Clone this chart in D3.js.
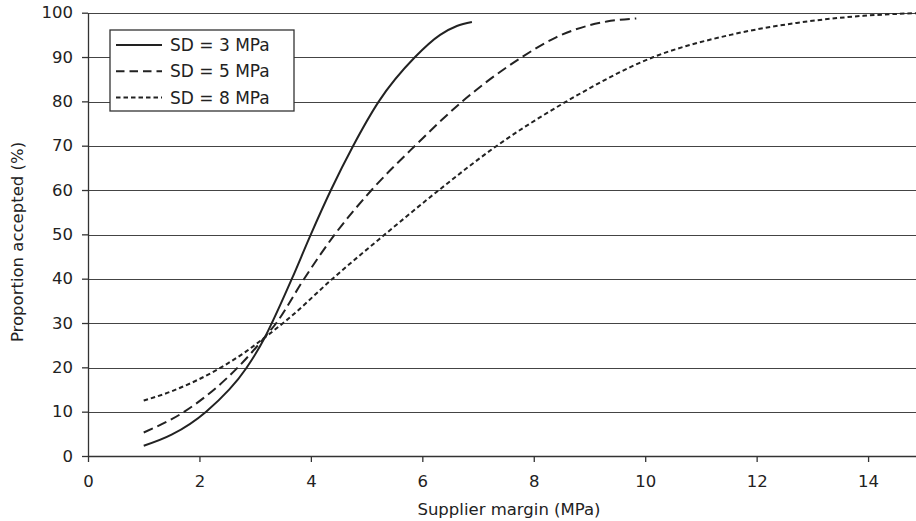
<!DOCTYPE html>
<html>
<head>
<meta charset="utf-8">
<script src="https://cdn.jsdelivr.net/npm/d3@7"></script>
<style>
  body { margin: 0; background: #fff; }
  svg { display: block; font-family: "DejaVu Sans", sans-serif; }
  .grid line { stroke: #444; stroke-width: 1; shape-rendering: crispEdges; }
  .axis path, .axis line { stroke: #333; stroke-width: 1.3; }
  .axis text { fill: #222; font-size: 16.5px; font-family: "DejaVu Sans", sans-serif; }
  .curve { fill: none; stroke: #222; stroke-width: 2; }
</style>
</head>
<body>
<svg width="916" height="521"></svg>
<script>
// values (x = supplier margin MPa, y = % accepted)
var sd3X = [1.0, 1.5, 2.12, 2.84, 3.18, 3.30, 3.66, 4.0, 4.36, 4.76, 5.22, 5.87, 6.32, 6.62, 6.89],
    sd3Y = [2.3, 4.8, 10, 19.8, 26.9, 30, 40, 50, 60, 70, 80, 90, 95, 97, 97.9];

var sd5X = [1.0, 1.73, 2.69, 3.18, 3.38, 3.88, 4.43, 5.09, 5.87, 6.72, 7.79, 8.41, 9.01, 9.31, 9.84],
    sd5Y = [5.3, 10, 20, 26.9, 30, 40, 50, 60, 70, 80, 90, 94.5, 97.2, 98.0, 98.7];

var sd8X = [1.0, 1.5, 2.39, 2.84, 3.18, 3.6, 4.39, 5.33, 6.30, 7.34, 8.59, 10.15, 11.53, 12.72, 13.92, 14.86],
    sd8Y = [12.5, 14.6, 20, 23.6, 26.8, 31, 40, 50, 60, 70, 80, 90, 95.0, 97.7, 99.3, 99.9];

var seriesNames = ["SD = 3 MPa", "SD = 5 MPa", "SD = 8 MPa"],
    dashes = [null, "10,5", "4.5,3"];

var xTicks = [0, 2, 4, 6, 8, 10, 12, 14],
    yTicks = [0, 10, 20, 30, 40, 50, 60, 70, 80, 90, 100];

var svg = d3.select("svg"),
    margin = {top: 12.7, right: 0, bottom: 65, left: 88},
    width = 916 - margin.left - margin.right,
    height = 456 - margin.top;

var x = d3.scaleLinear().domain([0, 14.86]).range([0, width]),
    y = d3.scaleLinear().domain([0, 100]).range([height, 0]);

var g = svg.append("g")
    .attr("transform", "translate(" + margin.left + "," + margin.top + ")");

// horizontal gridlines
g.append("g")
    .attr("class", "grid")
  .selectAll("line")
  .data(yTicks.slice(1))
  .enter().append("line")
    .attr("x1", 0)
    .attr("x2", width)
    .attr("y1", function(d) { return Math.round(y(d)) + 0.5; })
    .attr("y2", function(d) { return Math.round(y(d)) + 0.5; });

g.append("g")
    .attr("class", "axis axis--x")
    .attr("transform", "translate(0," + height + ")")
    .call(d3.axisBottom(x).tickValues(xTicks).tickSize(6).tickSizeOuter(0).tickPadding(13));

g.append("g")
    .attr("class", "axis axis--y")
    .call(d3.axisLeft(y).tickValues(yTicks).tickSize(6).tickSizeOuter(0).tickPadding(9));

var line = d3.line()
    .curve(d3.curveMonotoneX)
    .x(function(d) { return x(d[0]); })
    .y(function(d) { return y(d[1]); });

var series = [d3.zip(sd3X, sd3Y), d3.zip(sd5X, sd5Y), d3.zip(sd8X, sd8Y)];

g.selectAll(".curve")
  .data(series)
  .enter().append("path")
    .attr("class", "curve")
    .attr("stroke-dasharray", function(d, i) { return dashes[i]; })
    .attr("d", line);

// legend
var legend = svg.append("g").attr("transform", "translate(110,30)");

legend.append("rect")
    .attr("width", 184)
    .attr("height", 81)
    .attr("fill", "#fff")
    .attr("stroke", "#333")
    .attr("stroke-width", 1.3);

var item = legend.selectAll(".item")
  .data(seriesNames)
  .enter().append("g")
    .attr("transform", function(d, i) { return "translate(0," + (15 + i * 26.3) + ")"; });

item.append("line")
    .attr("x1", 6)
    .attr("x2", 52)
    .attr("stroke", "#222")
    .attr("stroke-width", 2)
    .attr("stroke-dasharray", function(d, i) { return i == 2 ? "4.5,3" : (i == 1 ? "8.5,5" : null); });

item.append("text")
    .attr("x", 60)
    .attr("dy", "0.36em")
    .attr("fill", "#222")
    .style("font-size", "17px")
    .text(function(d) { return d; });

// axis titles
svg.append("text")
    .attr("x", 509)
    .attr("y", 515)
    .attr("text-anchor", "middle")
    .attr("fill", "#222")
    .style("font-size", "16.5px")
    .text("Supplier margin (MPa)");

svg.append("text")
    .attr("transform", "translate(23,242) rotate(-90)")
    .attr("text-anchor", "middle")
    .attr("fill", "#222")
    .style("font-size", "16.5px")
    .text("Proportion accepted (%)");
</script>
</body>
</html>
